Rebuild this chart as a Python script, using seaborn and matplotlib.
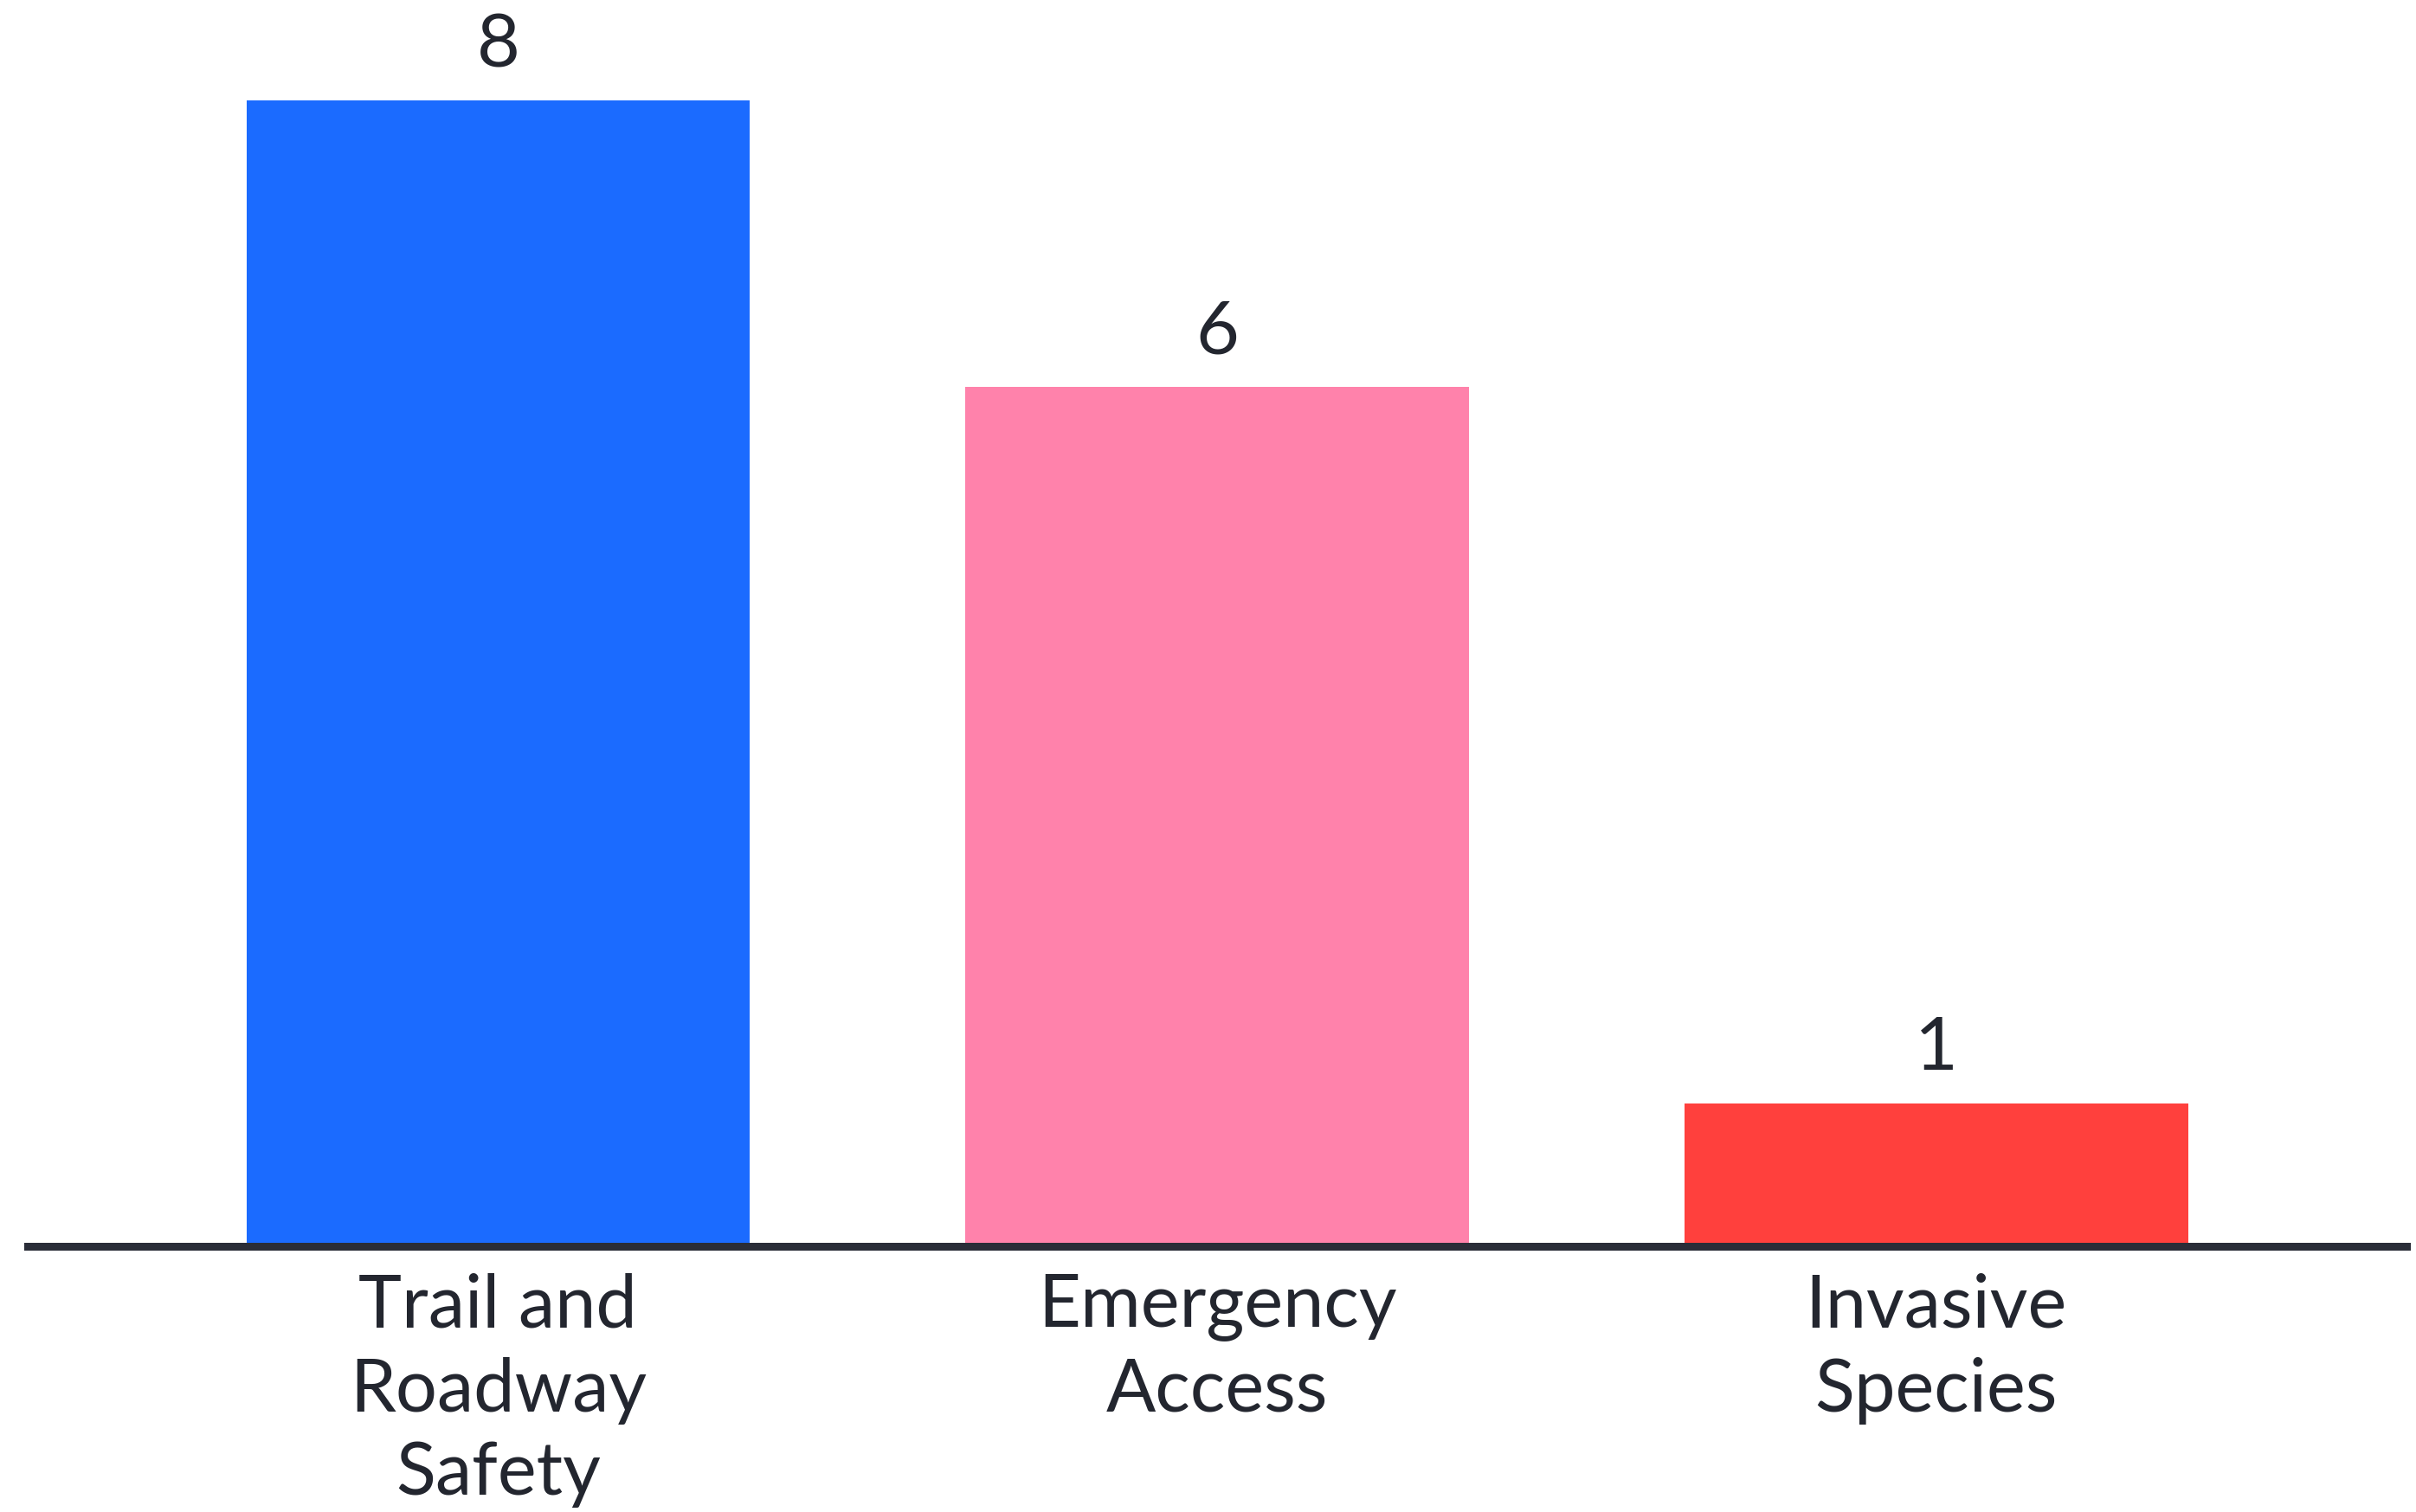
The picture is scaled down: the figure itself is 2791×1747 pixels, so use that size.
import matplotlib
matplotlib.use("Agg")
import matplotlib.pyplot as plt
import seaborn as sns
import pandas as pd

categories = ["Trail and\nRoadway\nSafety", "Emergency\nAccess", "Invasive\nSpecies"]
values = [8, 6, 1]
colors = ["#1b6bff", "#ff82ab", "#ff403d"]

sns.set_theme(style="white")
plt.rcParams['font.family'] = ['Lato', 'DejaVu Sans']
text_color = "#23262f"

df = pd.DataFrame({"category": categories, "value": values})

fig = plt.figure(figsize=(27.91, 17.47), dpi=100)
fig.patch.set_facecolor("white")
ax = fig.add_axes([0.0115, 0.1757, 0.9846, 0.8243])

sns.barplot(data=df, x="category", y="value", hue="category",
            palette=colors, width=0.7, legend=False, ax=ax,
            saturation=1, linewidth=0)

ax.set_xlim(-0.654, 2.654)
ax.set_ylim(0, 8.70)
ax.set_xlabel("")
ax.set_ylabel("")
ax.set_yticks([])
for s in ["top", "left", "right"]:
    ax.spines[s].set_visible(False)
ax.spines["bottom"].set_color("#2a2d38")
ax.spines["bottom"].set_linewidth(6.5)
ax.tick_params(axis="x", length=0, pad=22, labelsize=61, colors=text_color)
for lbl in ax.get_xticklabels():
    lbl.set_linespacing(1.3)
    lbl.set_verticalalignment("top")

for cont in ax.containers:
    ax.bar_label(cont, fmt="%g", padding=17, fontsize=62, color=text_color)

fig.savefig("out.png", dpi=100, facecolor="white")
